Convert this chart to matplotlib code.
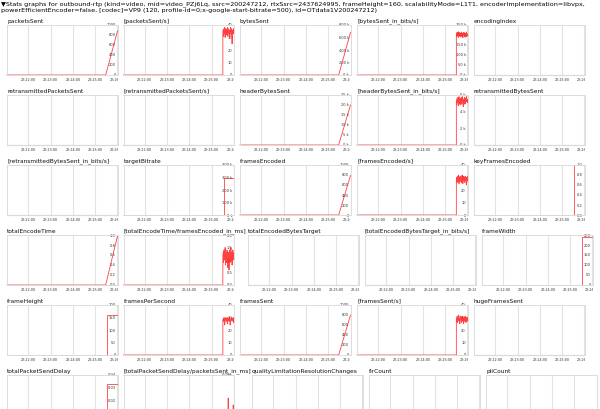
import numpy as np
import matplotlib
matplotlib.use("Agg")
import matplotlib.pyplot as plt
from matplotlib.transforms import Bbox, TransformedBbox

header = ("\u25bcStats graphs for outbound-rtp (kind=video, mid=video_PZj6Lq, ssrc=200247212, "
          "rtxSsrc=2437624995, frameHeight=160, scalabilityMode=L1T1, encoderImplementation=libvpx,\n"
          "powerEfficientEncoder=false, [codec]=VP9 (120, profile-id=0;x-google-start-bitrate=500), "
          "id=OTdata1V200247212)")

# time axis, minutes after 22:00
time_ticks = [22, 23, 24, 25, 26]
time_labels = ["22:22:00", "22:23:00", "22:24:00", "22:25:00", "22:26:00"]
t_first, t_last = 21.05, 26.0
t_ramp = 25.47      # counters start growing
t_step = 25.53      # gauges switch on
t_rate = 25.5       # first rate sample

# counters (ramp from 0 to the value at the right edge)
ramp_t = [t_first, t_ramp, t_last]
packets_sent = [0, 0, 880]
bytes_sent = [0, 0, 680e3]
header_bytes_sent = [0, 0, 20e3]
frames_encoded = [0, 0, 790]
total_encode_time = [0, 0, 0.98]
frames_sent = [0, 0, 800]

# gauges (step)
step_t = [t_first, t_step, t_step, t_last]
target_bitrate = [0, 0, 300e3, 300e3]
key_frames_encoded = [0, 0, 1.0, 1.0]
frame_width = [0, 0, 240, 240]
frame_height = [0, 0, 160, 160]
total_packet_send_delay = [0, 0, 0.033, 0.033]

# per-second rates after the stream starts
packets_per_s = [34, 36, 31, 37, 33, 38, 30, 35, 37, 32, 36, 34, 38, 31, 35,
                 37, 33, 36, 30, 34, 38, 35, 32, 37, 25, 34, 36, 33, 37, 35]
bits_per_s = [205e3, 192e3, 214e3, 198e3, 210e3, 188e3, 216e3, 201e3, 195e3, 212e3,
              190e3, 207e3, 199e3, 215e3, 193e3, 209e3, 202e3, 186e3, 211e3, 197e3,
              213e3, 194e3, 205e3, 189e3, 208e3, 200e3, 215e3, 192e3, 206e3, 198e3]
header_bits_per_s = [5.3e3, 4.9e3, 5.6e3, 5.1e3, 5.7e3, 4.7e3, 5.4e3, 5.8e3, 5.0e3, 5.5e3,
                     4.8e3, 5.6e3, 5.2e3, 5.7e3, 4.9e3, 5.4e3, 5.8e3, 5.1e3, 4.6e3, 5.5e3,
                     5.3e3, 5.7e3, 4.9e3, 5.6e3, 5.0e3, 5.4e3, 5.8e3, 5.2e3, 5.5e3, 5.1e3]
frames_encoded_per_s = [28, 30, 26, 31, 27, 29, 32, 25, 30, 28, 31, 27, 29, 26, 30,
                        32, 28, 25, 31, 29, 27, 30, 26, 31, 28, 29, 24, 30, 27, 31]
encode_ms_per_frame = [1.1, 1.3, 0.9, 1.4, 1.0, 1.2, 1.5, 0.8, 1.3, 1.1, 0.9, 1.4, 1.2, 0.7, 1.0,
                       1.3, 0.6, 1.1, 1.4, 0.9, 1.2, 1.5, 1.0, 1.3, 0.8, 1.1, 1.4, 1.0, 1.2, 1.3]
frames_per_second = [28, 29, 27, 30, 28, 24, 29, 28, 30, 27, 29, 28, 25, 30, 29,
                     28, 27, 30, 29, 24, 28, 29, 30, 28, 27, 29, 28, 30, 26, 29]
frames_sent_per_s = [29, 27, 31, 26, 30, 28, 32, 27, 29, 25, 31, 28, 30, 26, 29,
                     31, 27, 30, 28, 25, 30, 29, 27, 31, 28, 26, 30, 29, 27, 30]
send_delay_ms = [1e-4, 1.2e-4, 0.8e-4, 1.5e-4, 1.1e-4, 0.9e-4, 1.3e-4, 1.0e-4, 1.2e-4, 0.9e-4,
                 1.1e-4, 1.4e-4, 1.0e-4, 2.0e-4, 5.4e-4, 1.2e-4, 0.9e-4, 1.1e-4, 1.3e-4, 1.0e-4,
                 1.2e-4, 0.8e-4, 1.1e-4, 1.0e-4, 1.3e-4, 0.9e-4, 1.2e-4, 4.0e-4, 1.1e-4, 1.0e-4]

# y scales shown at the right edge of each graph
ticks_1000 = [0, 200, 400, 600, 800, 1000]
ticks_40 = [0, 10, 20, 30, 40]
ticks_bytes = [0, 200e3, 400e3, 600e3, 800e3]
labels_bytes = ["0 k", "200 k", "400 k", "600 k", "800 k"]
ticks_bits = [0, 50e3, 100e3, 150e3, 200e3, 250e3]
labels_bits = ["0 k", "50 k", "100 k", "150 k", "200 k", "250 k"]
ticks_header = [0, 5e3, 10e3, 15e3, 20e3, 25e3]
labels_header = ["0 k", "5 k", "10 k", "15 k", "20 k", "25 k"]
ticks_header_bits = [0, 2e3, 4e3, 6e3]
labels_header_bits = ["0 k", "2 k", "4 k", "6 k"]
ticks_target = [0, 100e3, 200e3, 300e3, 400e3]
labels_target = ["0 k", "100 k", "200 k", "300 k", "400 k"]
ticks_unit = [0, 0.2, 0.4, 0.6, 0.8, 1.0]
labels_unit = ["0.0", "0.2", "0.4", "0.6", "0.8", "1.0"]
ticks_ms = [0, 0.5, 1.0, 1.5, 2.0]
labels_ms = ["0.0", "0.5", "1.0", "1.5", "2.0"]
ticks_width = [0, 50, 100, 150, 200, 250]
ticks_height = [0, 50, 100, 150, 200]
ticks_delay = [0, 0.01, 0.02, 0.03, 0.04]
labels_delay = ["0.00", "0.01", "0.02", "0.03", "0.04"]
ticks_delay_ms = [0, 0.001]
labels_delay_ms = ["0", "0.001"]


def rate(vals):
    t = np.r_[t_first, t_rate, np.linspace(t_rate, t_last, len(vals))]
    return t, np.r_[0, 0, vals]


def ints(ticks):
    return [str(v) for v in ticks]


# (title, times, values, y ticks, y tick labels); None = flat zero line, no scale
panels = [
    ("packetsSent", ramp_t, packets_sent, ticks_1000, ints(ticks_1000)),
    ("[packetsSent/s]", *rate(packets_per_s), ticks_40, ints(ticks_40)),
    ("bytesSent", ramp_t, bytes_sent, ticks_bytes, labels_bytes),
    ("[bytesSent_in_bits/s]", *rate(bits_per_s), ticks_bits, labels_bits),
    ("encodingIndex", None, None, None, None),
    ("retransmittedPacketsSent", None, None, None, None),
    ("[retransmittedPacketsSent/s]", None, None, None, None),
    ("headerBytesSent", ramp_t, header_bytes_sent, ticks_header, labels_header),
    ("[headerBytesSent_in_bits/s]", *rate(header_bits_per_s), ticks_header_bits, labels_header_bits),
    ("retransmittedBytesSent", None, None, None, None),
    ("[retransmittedBytesSent_in_bits/s]", None, None, None, None),
    ("targetBitrate", step_t, target_bitrate, ticks_target, labels_target),
    ("framesEncoded", ramp_t, frames_encoded, ticks_1000, ints(ticks_1000)),
    ("[framesEncoded/s]", *rate(frames_encoded_per_s), ticks_40, ints(ticks_40)),
    ("keyFramesEncoded", step_t, key_frames_encoded, ticks_unit, labels_unit),
    ("totalEncodeTime", ramp_t, total_encode_time, ticks_unit, labels_unit),
    ("[totalEncodeTime/framesEncoded_in_ms]", *rate(encode_ms_per_frame), ticks_ms, labels_ms),
    ("totalEncodedBytesTarget", None, None, None, None),
    ("[totalEncodedBytesTarget_in_bits/s]", None, None, None, None),
    ("frameWidth", step_t, frame_width, ticks_width, ints(ticks_width)),
    ("frameHeight", step_t, frame_height, ticks_height, ints(ticks_height)),
    ("framesPerSecond", *rate(frames_per_second), ticks_40, ints(ticks_40)),
    ("framesSent", ramp_t, frames_sent, ticks_1000, ints(ticks_1000)),
    ("[framesSent/s]", *rate(frames_sent_per_s), ticks_40, ints(ticks_40)),
    ("hugeFramesSent", None, None, None, None),
    ("totalPacketSendDelay", step_t, total_packet_send_delay, ticks_delay, labels_delay),
    ("[totalPacketSendDelay/packetsSent_in_ms]", *rate(send_delay_ms), ticks_delay_ms, labels_delay_ms),
    ("qualityLimitationResolutionChanges", None, None, None, None),
    ("firCount", None, None, None, None),
    ("pliCount", None, None, None, None),
]

# layout in pixels (the graphs flow like inline blocks, long titles push the row)
W, H = 600, 409
row_tops = [25, 95, 165, 235, 305, 375]
row_lefts = [
    [7, 123.5, 240, 357, 474],
    [7, 123.5, 240, 357, 474],
    [7, 123.5, 240, 357, 474],
    [7, 123.5, 248, 365, 482],
    [7, 123.5, 240, 357, 474],
    [7, 123.5, 252, 369, 486],
]
pw, ph = 110.5, 50

line_red = "#ff2020"
grid_grey = "#e3e3e3"

fig = plt.figure(figsize=(W / 100, H / 100), dpi=100)
fig.patch.set_facecolor("white")
fig.text(1 / W, 1 - 1.2 / H, header, fontsize=4.57, va="top", ha="left",
         linespacing=1.17, color="#000000")

for i, (title, t, v, yt, yl) in enumerate(panels):
    r, c = divmod(i, 5)
    x0, y0 = row_lefts[r][c], row_tops[r]
    ax = fig.add_axes([x0 / W, 1 - (y0 + ph) / H, pw / W, ph / H])
    ax.set_xlim(t_first, t_last)
    if t is None:
        ax.set_ylim(0, 1)
        ax.plot([t_first, t_last], [0, 0], color=line_red, lw=0.8, alpha=0.55, clip_on=False)
        ax.set_yticks([])
    else:
        ax.set_ylim(0, yt[-1])
        ax.plot(t, v, color=line_red, lw=0.6, alpha=0.85, clip_on=False)
        # keep only the scale labels that fall inside the picture
        shown = [k for k, val in enumerate(yt) if y0 + ph * (1 - val / yt[-1]) < H - 3]
        ax.yaxis.tick_right()
        ax.set_yticks([yt[k] for k in shown], [yl[k] for k in shown],
                      ha="right", fontsize=2.6, color="#333333")
        ax.tick_params(axis="y", length=0, pad=-1.2)
    ax.set_xticks(time_ticks)
    if y0 + ph + 8 < H:
        ax.set_xticklabels(time_labels, fontsize=2.4, color="#333333")
        clip = TransformedBbox(Bbox.from_extents(x0 / W, 1 - (y0 + ph + 12) / H,
                                                 (x0 + pw) / W, 1 - y0 / H), fig.transFigure)
        for lbl in ax.get_xticklabels():
            lbl.set_clip_box(clip)
            lbl.set_clip_on(True)
    else:
        ax.set_xticklabels([])
    ax.tick_params(axis="x", length=0, pad=2.2)
    ax.grid(axis="x", color=grid_grey, lw=0.8)
    for s in ax.spines.values():
        s.set_color("#dcdcdc")
        s.set_linewidth(0.7)
    ax.set_title(title, loc="left", fontsize=4.2, pad=1.6, color="#111111")

fig.savefig("out.png", dpi=100)
